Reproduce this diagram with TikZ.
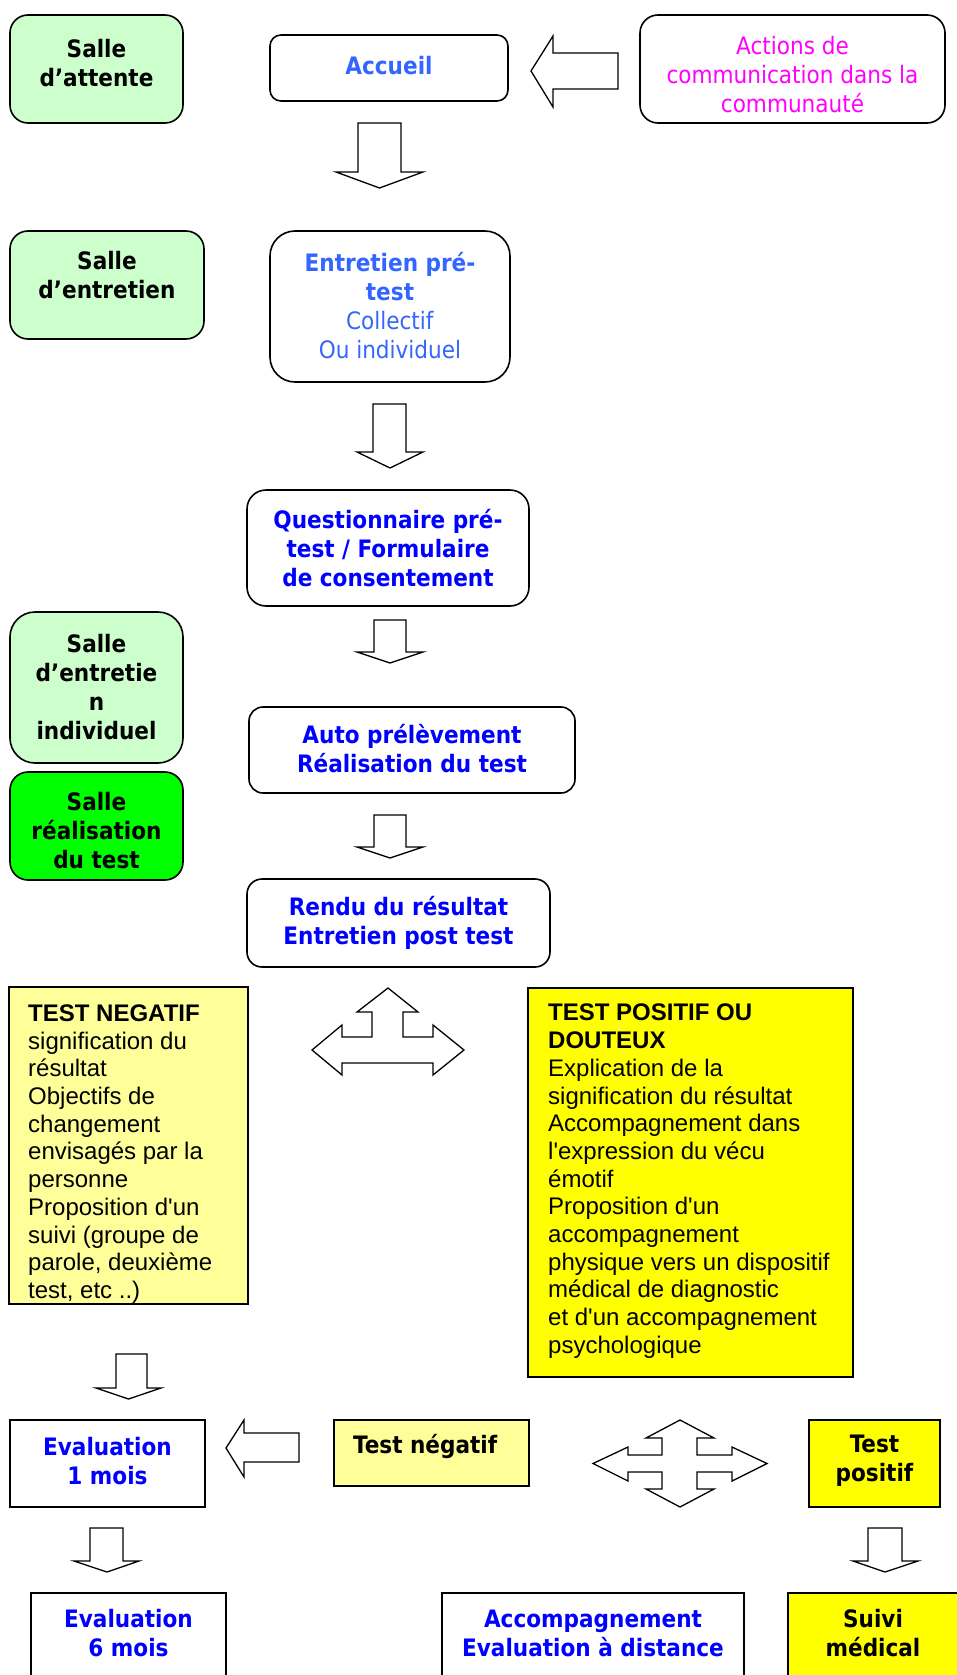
\documentclass[tikz,border=0pt]{standalone}
\usepackage{fontspec}
\newfontfamily\tah{DejaVu Sans Condensed}
\newfontfamily\ari{Liberation Sans}[Ligatures=TeXOff]
\definecolor{lgreen}{HTML}{CCFFCC}
\definecolor{bgreen}{HTML}{00FF00}
\definecolor{lyellow}{HTML}{FFFF99}
\definecolor{byellow}{HTML}{FFFF00}
\definecolor{lblue}{HTML}{3366FF}
\definecolor{dblue}{HTML}{0000FF}
\definecolor{mag}{HTML}{FF00FF}
\begin{document}
\begin{tikzpicture}[x=1pt,y=-1pt,
 rbox/.style={draw=black, line width=1.6pt, inner sep=0pt, rounded corners=#1},
 sbox/.style={draw=black, line width=1.4pt, inner sep=0pt},
 ttext/.style={font=\tah\fontsize{24}{29}\selectfont\bfseries, align=center, inner sep=0pt},
 atext/.style={font=\ari\fontsize{24}{27.7}\selectfont, align=left, inner sep=0pt, anchor=north west},
 barrow/.style={draw=black, line width=1.3pt, fill=white, line join=miter}]

\useasboundingbox (0,0) rectangle (957,1675);
\fill[white] (0,0) rectangle (957,1675);
\clip (0,0) rectangle (957,1675);

% rounded boxes
\node[rbox=18pt, fill=lgreen, minimum width=173pt, minimum height=108pt] (sa) at (96.5,69) {};
\node[ttext] (saT) at (96.5,63.5) {Salle\\d’attente};

\node[rbox=11pt, fill=white, minimum width=238pt, minimum height=66pt] (acc) at (389,68) {};
\node[ttext, text=lblue] (accT) at (389,66) {Accueil};

\node[rbox=18pt, fill=white, minimum width=305pt, minimum height=108pt] (act) at (792.5,69) {};
\node[ttext, text=mag] (actT) at (792.5,74.5) {\textmd{Actions de}\\\textmd{communication dans la}\\\textmd{communauté}};

\node[rbox=18pt, fill=lgreen, minimum width=194pt, minimum height=108pt] (se) at (107,285) {};
\node[ttext] (seT) at (107,275.5) {Salle\\d’entretien};

\node[rbox=25pt, fill=white, minimum width=240pt, minimum height=151pt] (ept) at (390,306.5) {};
\node[ttext, text=lblue] (eptT) at (390,305.5) {Entretien pré-\\test\\\textmd{Collectif}\\\textmd{Ou individuel}};

\node[rbox=19pt, fill=white, minimum width=282pt, minimum height=116pt] (q) at (388,548) {};
\node[ttext, text=dblue] (qT) at (388,548) {Questionnaire pré-\\test / Formulaire\\de consentement};

\node[rbox=25pt, fill=lgreen, minimum width=173pt, minimum height=151pt] (sei) at (96.5,687.5) {};
\node[ttext] (seiT) at (96.5,687) {Salle\\d’entretie\\n\\individuel};

\node[rbox=18pt, fill=bgreen, minimum width=173pt, minimum height=108pt] (srt) at (96.5,826) {};
\node[ttext] (srtT) at (96.5,830.5) {Salle\\réalisation\\du test};

\node[rbox=14pt, fill=white, minimum width=326pt, minimum height=86pt] (auto) at (412,750) {};
\node[ttext, text=dblue] (autoT) at (412,749) {Auto prélèvement\\Réalisation du test};

\node[rbox=15pt, fill=white, minimum width=303pt, minimum height=88pt] (rendu) at (398.5,923) {};
\node[ttext, text=dblue] (renduT) at (398.5,922.5) {Rendu du résultat\\Entretien post test};

% yellow text boxes
\node[sbox, fill=lyellow, minimum width=239pt, minimum height=317pt] (tn) at (128.5,1145.5) {};
\node[atext] (tnT) at (28,1004.5) {\textbf{TEST NEGATIF}\\signification du\\résultat\\Objectifs de\\changement\\envisagés par la\\personne\\Proposition d'un\\suivi (groupe de\\parole, deuxième\\test, etc ..)};

\node[sbox, fill=byellow, minimum width=325pt, minimum height=389pt] (tp) at (690.5,1182.5) {};
\node[atext] (tpT) at (548,1004) {\textbf{TEST POSITIF OU}\\\textbf{DOUTEUX}\\Explication de la\\signification du résultat\\Accompagnement dans\\l'expression du vécu\\émotif\\Proposition d'un\\accompagnement\\physique vers un dispositif\\médical de diagnostic\\et d'un accompagnement\\psychologique};

% bottom boxes
\node[sbox, fill=white, minimum width=195pt, minimum height=87pt] (e1) at (107.5,1463.5) {};
\node[ttext, text=dblue] (e1T) at (107.5,1461) {Evaluation\\1 mois};

\node[sbox, fill=lyellow, minimum width=195pt, minimum height=66pt] (tneg) at (431.5,1453) {};
\node[ttext, anchor=west] (tnegT) at (353,1446) {Test négatif};

\node[sbox, fill=byellow, minimum width=131pt, minimum height=87pt] (tpos) at (874.5,1463.5) {};
\node[ttext] (tposT) at (874.5,1460.5) {Test\\positif};

\node[sbox, fill=white, minimum width=195pt, minimum height=100pt] (e6) at (128.5,1643) {};
\node[ttext, text=dblue] (e6T) at (128.5,1633) {Evaluation\\6 mois};

\node[sbox, fill=white, minimum width=302pt, minimum height=100pt] (acd) at (593,1643) {};
\node[ttext, text=dblue] (acdT) at (593,1633.5) {Accompagnement\\Evaluation à distance};

\node[sbox, fill=byellow, minimum width=172pt, minimum height=100pt] (sm) at (874,1643) {};
\node[ttext] (smT) at (873,1633) {Suivi\\médical};

% block arrows
\draw[barrow] (531,71) -- (553,36) -- (553,53) -- (618,53) -- (618,89) -- (553,89) -- (553,107) -- cycle;
\draw[barrow] (358,123) -- (401,123) -- (401,172) -- (423,172) -- (379.5,188) -- (336,172) -- (358,172) -- cycle;
\draw[barrow] (373,404) -- (406,404) -- (406,452) -- (423,452) -- (390,468) -- (357,452) -- (373,452) -- cycle;
\draw[barrow] (374,620) -- (406,620) -- (406,652) -- (423,652) -- (390,663) -- (357,652) -- (374,652) -- cycle;
\draw[barrow] (374,815) -- (406,815) -- (406,847) -- (423,847) -- (390,858) -- (357,847) -- (374,847) -- cycle;
% T-arrow
\draw[barrow] (388,988) -- (418,1012) -- (403,1012) -- (403,1037) -- (433,1037) -- (433,1025) -- (464,1050) -- (433,1075) -- (433,1063) -- (342,1063) -- (342,1075) -- (312,1050) -- (342,1025) -- (342,1037) -- (372,1037) -- (372,1012) -- (357,1012) -- cycle;
% down under TEST NEGATIF
\draw[barrow] (116,1354) -- (147,1354) -- (147,1388) -- (161,1388) -- (128.5,1399) -- (96,1388) -- (116,1388) -- cycle;
% left arrow test negatif -> evaluation
\draw[barrow] (226,1448) -- (244,1420) -- (244,1433) -- (299,1433) -- (299,1462) -- (244,1462) -- (244,1477) -- cycle;
% four-way
\draw[barrow] (680,1420) -- (714,1438) -- (697,1438) -- (697,1455) -- (732,1455) -- (732,1447) -- (767,1463.5) -- (732,1481) -- (732,1472) -- (697,1472) -- (697,1489) -- (714,1489) -- (680,1507) -- (646,1489) -- (662,1489) -- (662,1472) -- (628,1472) -- (628,1481) -- (593,1463.5) -- (628,1447) -- (628,1455) -- (662,1455) -- (662,1438) -- (646,1438) -- cycle;
% bottom down arrows
\draw[barrow] (90,1528) -- (123,1528) -- (123,1561) -- (139,1561) -- (107,1572) -- (74,1561) -- (90,1561) -- cycle;
\draw[barrow] (868,1528) -- (902,1528) -- (902,1561) -- (918,1561) -- (885,1572) -- (853,1561) -- (868,1561) -- cycle;
\end{tikzpicture}
\end{document}
